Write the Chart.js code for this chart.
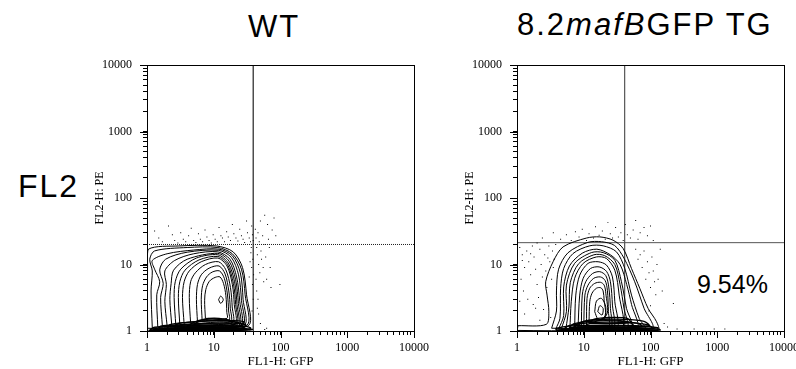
<!DOCTYPE html>
<html>
<head>
<meta charset="utf-8">
<script src="https://cdn.jsdelivr.net/npm/chart.js@4"></script>
<style>
  body { margin: 0; width: 796px; height: 369px; overflow: hidden; background: #fff; position: relative; font-family: "Liberation Sans", Arial, sans-serif; }
  .box { position: absolute; }
  .big { position: absolute; color: #000; font-size: 31px; line-height: 30px; letter-spacing: 2px; white-space: nowrap; }
</style>
</head>
<body>
<div class="big" style="left:248px; top:12px;">WT</div>
<div class="big" style="left:517px; top:10px;">8.2<i>mafB</i>GFP TG</div>
<div class="big" style="left:18px; top:171px; font-size:32px;">FL2</div>
<div class="big" style="left:697px; top:272px; font-size:25px; line-height:25px; letter-spacing:0;">9.54%</div>
<div class="box" style="left:90px; top:55px;"><canvas id="wtChart" width="345" height="314"></canvas></div>
<div class="box" style="left:460px; top:55px;"><canvas id="tgChart" width="345" height="314"></canvas></div>
<script>
// axis ticks
const decades = [1, 10, 100, 1000, 10000];
const tickLabels = ['1', '10', '100', '1000', '10000'];
const mantissas = [1, 2, 3, 4, 5, 6, 7, 8, 9];

// quadrant gates [FL1, FL2]
const wtGate = [39, 20];
const tgGate = [41, 21.3];

// --- WT contours (FL1-H, FL2-H) ---
const wtContours = [
  [[1.02,1.1],[1.02,10],[1.05,17],[3,19],[11,19],[19.5,15.5],[27,9],[31,3.5],[33,1.2],[5,1.06]],
  [[1.2,1.12],[1.15,4],[1.2,8],[1.1,12],[1.3,16],[4,18],[11.5,18],[19,14.5],[26,8.5],[29.5,3.5],[30.5,1.2]],
  [[1.45,1.15],[1.4,3.5],[1.55,5.5],[1.3,8.5],[1.2,11.5],[2,14.5],[5,16.5],[12,17],[19,13.5],[25,7.5],[27.5,3],[28,1.2]],
  [[1.7,1.18],[1.6,3.2],[1.75,5.2],[1.55,8.3],[1.9,12],[4,15.3],[11.8,16.3],[18.3,12.8],[23.5,7],[26,2.9],[26.5,1.2]],
  [[2.0,1.2],[1.85,2.8],[1.95,5],[1.85,8],[2.6,11.5],[5,14.5],[11.5,15.5],[17.5,12],[22,6.5],[24.5,2.8],[25,1.22]],
  [[2.35,1.22],[2.2,3],[2.3,5.2],[2.5,8.2],[4,12],[11.5,14.7],[17,11.2],[21.2,6],[23.4,2.6],[23.7,1.23]],
  [[2.7,1.23],[2.55,3.2],[2.65,5.5],[3.2,8.5],[5.5,12.5],[11.5,14],[16.5,10.5],[20.5,5.5],[22.3,2.5],[22.5,1.25]],
  [[3.1,1.25],[2.95,3.2],[3.1,5.5],[3.7,8.2],[6,11.7],[11.5,13.2],[16.1,10],[19.7,5.2],[21.3,2.5],[21.5,1.27]],
  [[3.6,1.27],[3.4,3.2],[3.6,5.5],[4.3,8],[6.5,11],[11.5,12.5],[15.8,9.5],[19,5],[20.3,2.5],[20.5,1.28]],
  [[4.5,1.32],[4.3,3.2],[4.5,5.5],[5.3,7.5],[7.5,10],[11.8,11],[15.2,8.3],[17.8,4.5],[18.9,2.3],[19,1.32]],
  [[5.7,1.38],[5.5,3],[5.7,5],[6.5,7],[8.5,8.8],[12,9.5],[14.8,7.2],[16.8,4],[17.7,2.2],[17.8,1.38]],
  [[6.7,1.45],[6.5,3],[6.8,4.8],[7.8,6.5],[9.5,7.7],[12.2,8],[14.4,6.2],[16,3.6],[16.7,2],[16.8,1.45]],
  [[7.5,1.55],[7.3,2.9],[7.6,4.2],[8.6,5.6],[10.5,6.4],[12.4,6.5],[14,5.2],[15.2,3.4],[15.7,1.9],[15.8,1.55]],
  [[11.8,2.95],[12.7,3.35],[13.9,2.95],[12.7,2.6]]
];
const wtBand = [
  [[1.05,1.02],[15,1.02],[33,1.03],[38,1.06],[20,1.08],[3,1.08]],
  [[1.1,1.04],[8,1.03],[30,1.04],[36,1.1],[30,1.17],[12,1.2],[4,1.18],[1.3,1.14]],
  [[1.5,1.08],[6,1.1],[15,1.08],[28,1.12],[30,1.25],[18,1.32],[8,1.3],[3,1.24],[1.6,1.18]],
  [[2,1.1],[12,1.12],[26,1.2],[28,1.38],[16,1.45],[8,1.42],[4,1.35],[2.2,1.25]],
  [[2.5,1.14],[10,1.15],[24,1.16],[26,1.3],[14,1.42],[6,1.4],[3,1.3]],
  [[4,1.2],[12,1.22],[20,1.25],[22,1.35],[12,1.5],[6,1.45]],
  [[5,1.26],[10,1.28],[18,1.3],[19,1.4],[12,1.55],[7,1.5]],
  [[1.2,1.06],[20,1.06],[34,1.07],[20,1.12],[5,1.12]]
];
const wtDots = [
  [1.3,32],[1.5,25],[1.7,22],[2.1,38],[2.4,28],[2.6,23],[2.9,21],[3.2,30],[3.5,24],[3.8,22],[4.2,27],[4.6,35],
  [5.0,23],[5.4,21.5],[5.9,29],[6.3,24],[6.8,22],[7.4,33],[7.9,26],[8.5,23],[9.2,21],[9.8,28],[10.5,24],[11.3,22],
  [12,36],[12.8,27],[13.5,25],[14.5,22],[15.6,31],[16.5,26],[17.8,23],[19,40],[20,29],[21.5,25],[23,22.5],[24.5,34],
  [26,27],[27.5,24],[29,21.5],[31,45],[32,30],[34,25],[35.5,22],[37,38],[38,28],[39,23],
  [42,34],[43,25],[44,18],[45,14],[46,30],[47,10],[48,22],[49,7.5],[50,45],[51,16],[52,12],[54,27],[55,9],[56,5.5],
  [58,55],[59,20],[60,13],[62,6],[64,40],[66,24],[68,18],[70,9],[72,4.5],[75,33],[80,50],[85,27],[98,5],
  [45,2.2],[47,1.8],[50,1.3],[58,1.05],[62,1.1],[44,4],[43,6],[46,3],
  [36,15],[37,9],[38,5],[39,3],[38.5,12],[37.5,2],[39.5,7],[36.5,18],[35,11],[34,6.5]
];

// --- 8.2mafBGFP TG contours ---
const tgContours = [
  [[1.03,1.2],[2.75,1.26],[3.0,1.95],[2.82,3.47],[2.69,5.5],[3.47,11],[4.9,18.4],[11,25],[17.4,26],[27.5,23.2],[38.9,17.4],[51.9,8.7],[69,4.4],[92,2.19],[123,1.38],[130,1.03],[1.03,1.02]],
  [[3.3,1.1],[3.9,2],[3.9,4],[4.2,8.5],[5.8,15],[11.5,21.5],[18.5,22],[29,19.3],[40,12.5],[58,5.5],[80,2.2],[105,1.1]],
  [[3.8,1.07],[4.4,1.55],[4.5,4.4],[5.0,8.7],[6.9,14.6],[12.3,19.1],[19.5,19.1],[30.9,15.5],[41.2,8.7],[51.9,3.47],[67.6,1.55],[82.2,1.07]],
  [[4.2,1.07],[5,1.7],[5,4.6],[6.1,9.5],[9.5,14.8],[15.7,17],[25,14],[35,10],[44,5],[52,2.5],[62,1.07]],
  [[4.6,1.07],[5.5,1.95],[5.5,4.9],[7.3,10.4],[13,15.1],[19.5,15.1],[29.2,11.6],[36.7,5.5],[43.7,2.19],[51.9,1.07]],
  [[5.4,1.07],[6,2.3],[6.3,5.4],[8.4,10.3],[14.2,14],[20.5,13.6],[29.2,10],[35,5],[40,2.2],[44,1.07]],
  [[6.2,1.07],[6.5,2.75],[7.3,6.2],[9.8,10.4],[15.5,13],[21.9,12.3],[29.2,8.2],[33.9,3.47],[36.7,1.07]],
  [[7.3,1.07],[7.6,3.47],[8.7,6.9],[11.6,10.4],[16.4,11],[21.9,9.8],[26.9,6.5],[29.2,2.75],[30.9,1.07]],
  [[8.2,1.07],[8.7,3.47],[9.8,6.2],[12.6,8.7],[17,9.2],[21.9,7.9],[25.1,5.5],[26.9,2.45],[27.5,1.07]],
  [[9.2,1.1],[9.5,3.47],[10.7,5.5],[13.5,7.3],[17.4,7.8],[21.4,6.8],[23.7,4.6],[25.1,2.19],[25.1,1.1]],
  [[10,1.16],[10.4,3.47],[11.6,4.9],[14.1,6.2],[17.8,6.5],[20.9,5.75],[22.6,4.1],[23.4,1.95],[23.4,1.16]],
  [[11,1.23],[11.2,3.1],[12.3,4.4],[14.6,5.2],[17.8,5.4],[20.2,4.9],[21.4,3.7],[21.9,1.74]],
  [[12,1.38],[12.3,2.75],[13.3,3.7],[15.5,4.4],[18,4.47],[19.5,4.0],[20.2,2.9],[20.7,1.55]],
  [[14.6,1.95],[15.5,2.82],[18.4,3.1],[21.4,2.3],[20.2,1.58],[16.4,1.51]],
  [[16.2,1.95],[17.4,2.4],[19.5,2.19],[18.8,1.74]]
];
const tgBand = [
  [[3.9,1.02],[80,1.02],[140,1.03],[130,1.08],[50,1.1],[8,1.08]],
  [[3.8,1.03],[30,1.02],[125,1.04],[128,1.12],[60,1.2],[20,1.22],[6,1.18],[4,1.1]],
  [[5,1.07],[40,1.06],[105,1.1],[90,1.25],[35,1.35],[12,1.33],[6,1.2]],
  [[6,1.12],[30,1.13],[75,1.16],[65,1.3],[30,1.42],[12,1.4],[7,1.28]],
  [[7,1.15],[40,1.18],[95,1.2],[80,1.4],[40,1.5],[15,1.5],[9,1.35]],
  [[12,1.3],[30,1.3],[50,1.35],[45,1.55],[25,1.6],[14,1.5]],
  [[4.5,1.05],[60,1.05],[115,1.07],[60,1.12],[10,1.12]],
  [[8,1.18],[25,1.2],[55,1.22],[45,1.38],[20,1.48],[10,1.4]]
];
const tgDots = [
  [1.1,18],[1.2,14],[1.3,9],[1.15,6],[1.25,4],[1.4,16],[1.5,11],[1.6,7],[1.45,3],[1.7,19],[1.8,13],[1.9,8.5],
  [2.0,5],[1.75,2.5],[2.2,17],[2.3,10],[2.4,6.5],[2.1,3.2],[2.6,14],[2.7,8],[2.8,4.5],[2.5,2.1],[3.0,19],[3.1,11],
  [3.3,6],[3.4,16],[3.6,12],[3.8,20],[3.2,1.6],[1.3,1.8],[1.1,2.8],[1.2,11.5],[2.0,21],[1.6,14.5],[2.9,12.5],
  [2.2,1.45],[1.9,2.2],[3.5,9],
  [4.5,24],[5.5,28],[6.5,23],[7.5,31],[8.5,26],[9.5,34],[11,23],[12,29],[14,25],[15,37],[17,27.5],[19,32],[21,24],
  [23,43],[25,29],[27,25],[30,36],[33,26],[36,30],[39,23],[42,40],[45,28],[50,25],[55,33],[60,46],[65,24],[70,30],
  [80,36],[90,27],[100,38],[110,23],[2.4,25],[3.5,30],
  [60,17],[65,12],[70,14],[75,9],[80,16],[85,6],[90,11],[95,7.5],[100,4.5],[105,13],[110,8],[115,5.5],[120,3.5],
  [125,10],[130,6],[140,17],[150,4],[100,2.4],[95,2.0],[220,2.6],[250,1.07],[450,1.07],[900,1.07],[1300,1.07],
  [180,1.15],[160,1.3]
];

const toXY = pts => pts.map(([x, y]) => ({ x, y }));

// box around the plot + long ticks at each decade
const framePlugin = {
  id: 'frame',
  afterDraw(chart) {
    const { ctx, chartArea: a, scales: { x, y } } = chart;
    ctx.save();
    ctx.strokeStyle = '#000';
    ctx.lineWidth = 1;
    ctx.strokeRect(Math.round(a.left) + 0.5, Math.round(a.top) + 0.5, Math.round(a.right - a.left), Math.round(a.bottom - a.top));
    ctx.beginPath();
    decades.forEach(v => {
      const px = Math.round(x.getPixelForValue(v)) + 0.5;
      ctx.moveTo(px, a.bottom); ctx.lineTo(px, a.bottom + 7);
      const py = Math.round(y.getPixelForValue(v)) + 0.5;
      ctx.moveTo(a.left, py); ctx.lineTo(a.left - 7, py);
    });
    ctx.stroke();
    ctx.restore();
  }
};

function logAxis(title, fit, titleSize, titlePad, tickPad) {
  return {
    type: 'logarithmic', min: 1, max: 10000,
    afterBuildTicks: s => {
      s.ticks = [];
      decades.slice(0, 4).forEach(d => mantissas.forEach(m => s.ticks.push({ value: d * m })));
      s.ticks.push({ value: 10000 });
    },
    afterFit: s => {
      fit(s);
      s.paddingTop = 0; s.paddingBottom = 0; s.paddingLeft = 0; s.paddingRight = 0;
    },
    ticks: {
      autoSkip: false, maxRotation: 0, color: '#000', padding: tickPad,
      font: { family: '"Liberation Serif", "Times New Roman", serif', size: 12 },
      callback: v => { const i = decades.indexOf(v); return i >= 0 ? tickLabels[i] : ''; }
    },
    grid: { drawOnChartArea: false, drawTicks: true, tickLength: 4, color: '#000', lineWidth: 1 },
    border: { color: '#000', width: 1 },
    title: { display: true, text: title, color: '#000', padding: titlePad,
      font: { family: '"Liberation Serif", "Times New Roman", serif', size: titleSize } }
  };
}

function makeChart(id, contours, band, dots, gate, gateColor, hDash) {
  const datasets = [];
  contours.forEach(c => {
    datasets.push({ data: toXY(c.concat([c[0]])), showLine: true, borderColor: '#000', borderWidth: 1,
      pointRadius: 0, tension: 0.3, fill: false });
  });
  band.forEach(c => {
    datasets.push({ data: toXY(c.concat([c[0]])), showLine: true, borderColor: '#000', borderWidth: 1.3,
      pointRadius: 0, tension: 0.3, fill: false });
  });
  datasets.push({ data: toXY(dots), pointStyle: 'rect', pointRadius: 0.7, pointBackgroundColor: '#000',
    pointBorderWidth: 0, showLine: false });
  datasets.push({ data: [{ x: gate[0], y: 1 }, { x: gate[0], y: 10000 }], showLine: true, borderColor: gateColor,
    borderWidth: 1.2, pointRadius: 0 });
  datasets.push({ data: [{ x: 1, y: gate[1] }, { x: 10000, y: gate[1] }], showLine: true, borderColor: gateColor,
    borderWidth: 1, borderDash: hDash, pointRadius: 0 });

  return new Chart(document.getElementById(id), {
    type: 'scatter',
    data: { datasets },
    options: {
      responsive: false, animation: false, events: [], devicePixelRatio: 1,
      layout: { padding: { top: 10, right: 21, left: 0, bottom: 0 } },
      plugins: { legend: { display: false }, tooltip: { enabled: false } },
      scales: {
        x: logAxis('FL1-H: GFP', s => { s.height = 38; }, 13, { top: 0, bottom: 0 }, 6),
        y: logAxis('FL2-H: PE', s => { s.width = 57; }, 12, { top: 3, bottom: 0 }, 11)
      }
    },
    plugins: [framePlugin]
  });
}

makeChart('wtChart', wtContours, wtBand, wtDots, wtGate, '#222', [1, 1]);
makeChart('tgChart', tgContours, tgBand, tgDots, tgGate, '#555', []);
</script>
</body>
</html>
